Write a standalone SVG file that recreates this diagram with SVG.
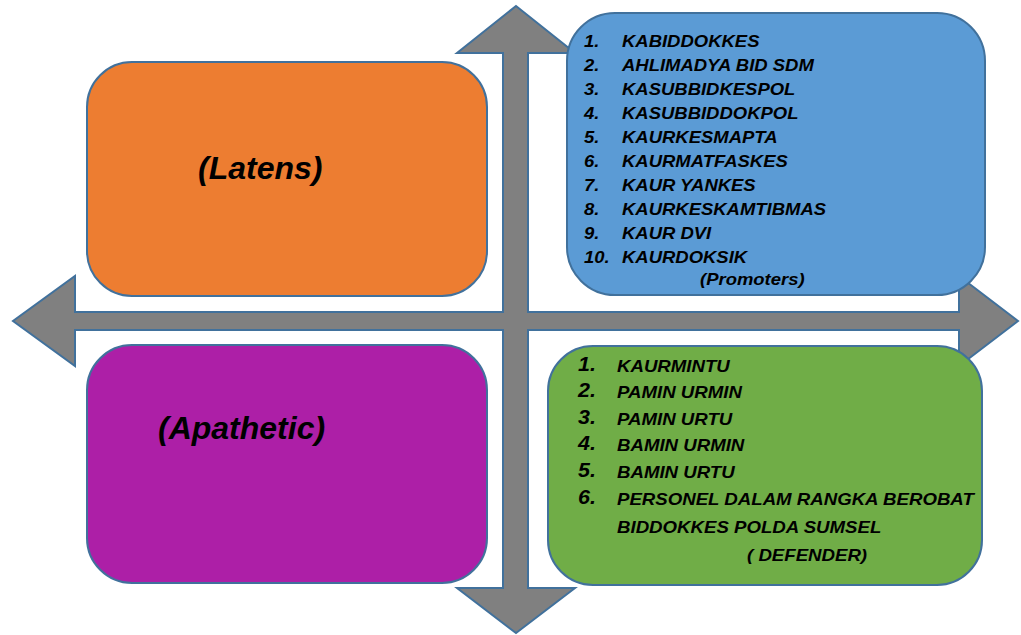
<svg xmlns="http://www.w3.org/2000/svg" width="1021" height="635" viewBox="0 0 1021 635">
<style>
.box{stroke:#41719C;stroke-width:2}
.arrow{fill:#808080;stroke:#41719C;stroke-width:2;stroke-linejoin:miter}
.t{font-family:"Liberation Sans",Arial,sans-serif;font-weight:bold;font-style:italic;fill:#000}
.it{font-size:16.5px}
.num{font-size:16.5px}
.gnum{font-size:19.5px}
.big{font-size:32px}
</style>
<g id="connectors">
<polygon class="arrow" points="516,6 575,53 528,53 528,312 959,312 959,276 1018,321 959,366 959,330 528,330 528,588 575,588 516,633 457,588 503,588 503,330 75,330 75,366 13,321 75,276 75,312 503,312 503,53 457,53"/>
</g>
<g id="latens">
<rect class="box" x="87" y="62" width="400" height="234" rx="45" ry="45" fill="#ED7D31"/>
<text class="t big" x="198" y="179">(Latens)</text>
</g>
<g id="apathetic">
<rect class="box" x="87" y="345" width="400" height="238" rx="45" ry="45" fill="#AD1FA7"/>
<text class="t big" x="158" y="439">(Apathetic)</text>
</g>
<g id="promoters">
<rect class="box" x="567" y="13" width="418" height="282" rx="48" ry="48" fill="#5B9BD5"/>
<g transform="translate(584 0) scale(1.12 1)">
<text class="t num" x="0" y="47">1.</text>
<text class="t num" x="0" y="71">2.</text>
<text class="t num" x="0" y="95">3.</text>
<text class="t num" x="0" y="119">4.</text>
<text class="t num" x="0" y="143">5.</text>
<text class="t num" x="0" y="167">6.</text>
<text class="t num" x="0" y="191">7.</text>
<text class="t num" x="0" y="215">8.</text>
<text class="t num" x="0" y="239">9.</text>
<text class="t num" x="0" y="263">10.</text>
</g>
<g transform="translate(622 0) scale(1.12 1)">
<text class="t it" x="0" y="47">KABIDDOKKES</text>
<text class="t it" x="0" y="71">AHLIMADYA BID SDM</text>
<text class="t it" x="0" y="95">KASUBBIDKESPOL</text>
<text class="t it" x="0" y="119">KASUBBIDDOKPOL</text>
<text class="t it" x="0" y="143">KAURKESMAPTA</text>
<text class="t it" x="0" y="167">KAURMATFASKES</text>
<text class="t it" x="0" y="191">KAUR YANKES</text>
<text class="t it" x="0" y="215">KAURKESKAMTIBMAS</text>
<text class="t it" x="0" y="239">KAUR DVI</text>
<text class="t it" x="0" y="263">KAURDOKSIK</text>
</g>
<g transform="translate(700 0) scale(1.12 1)">
<text class="t it" x="0" y="285">(Promoters)</text>
</g>
</g>
<g id="defender">
<rect class="box" x="548" y="346" width="434" height="239" rx="45" ry="45" fill="#70AD47"/>
<g transform="translate(578 0) scale(1.1 1)">
<text class="t gnum" x="0" y="371">1.</text>
<text class="t gnum" x="0" y="397">2.</text>
<text class="t gnum" x="0" y="424">3.</text>
<text class="t gnum" x="0" y="450">4.</text>
<text class="t gnum" x="0" y="477">5.</text>
<text class="t gnum" x="0" y="504">6.</text>
</g>
<g transform="translate(617 0) scale(1.13 1)">
<text class="t it" x="0" y="372">KAURMINTU</text>
<text class="t it" x="0" y="398">PAMIN URMIN</text>
<text class="t it" x="0" y="425">PAMIN URTU</text>
<text class="t it" x="0" y="451">BAMIN URMIN</text>
<text class="t it" x="0" y="478">BAMIN URTU</text>
<text class="t it" x="0" y="505">PERSONEL DALAM RANGKA BEROBAT</text>
<text class="t it" x="0" y="533">BIDDOKKES POLDA SUMSEL</text>
</g>
<g transform="translate(747 0) scale(1.13 1)">
<text class="t it" x="0" y="561">( DEFENDER)</text>
</g>
</g>
</svg>
